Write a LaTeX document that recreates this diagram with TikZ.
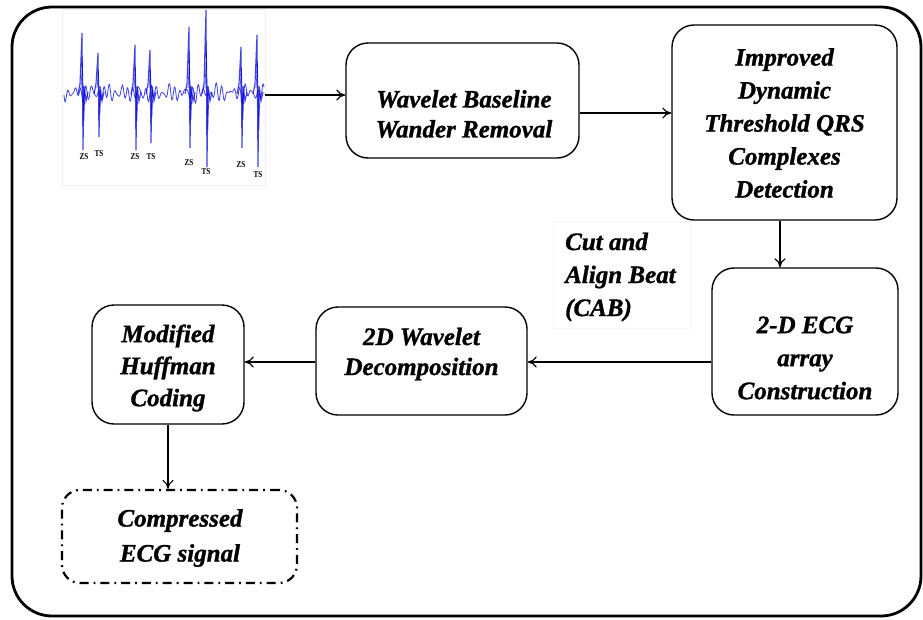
\documentclass[tikz,border=0pt]{standalone}
\usepackage{fontspec}
\setmainfont{Liberation Serif}[BoldItalicFeatures={FakeBold=1.2}]
\usetikzlibrary{arrows.meta}
\begin{document}
\begin{tikzpicture}[x=1pt,y=-1pt,
  stagebox/.style={draw,line width=1.4pt,rounded corners=22pt,inner sep=0pt},
  stagetext/.style={align=center,inner sep=0pt,
    font=\fontsize{25}{#1}\selectfont\bfseries\itshape},
  stagetext/.default=33,
  flow/.style={-{To[length=9pt,width=11pt]},line width=1.1pt},
  ecgline/.style={draw=blue!85!black,line width=0.8pt,opacity=0.75},
  spk/.style={font=\fontsize{9}{9}\selectfont\bfseries,inner sep=0pt,xscale=0.8}]
\useasboundingbox (0,0) rectangle (923,619);
% outer frame
\draw[line width=2.8pt,rounded corners=40pt] (12,7) rectangle (921,616);

% ECG trace
\node[draw=black!6,line width=0.5pt,minimum width=203pt,minimum height=176pt,inner sep=0pt] (ecg) at (163.5,97) {};
\draw[ecgline] plot[domain=0:200,samples=340,smooth]
  ({64+\x},{93+4.5*sin(61*\x)+3*sin(77*\x+40)+2.2*sin(23*\x)+1.5*sin(47*\x+10)});
\foreach \sx/\top/\bot in {83/33/150,99/53/137,136/45/150,151/50/143,190/27/148,207/10/167,242/47/148,258/35/167}{
  \draw[ecgline,line width=1.1pt] (\sx-5,94) -- (\sx-3,84) -- (\sx-1,\top) -- (\sx,\bot) -- (\sx+1,86) -- (\sx+3,101) -- (\sx+5,92);
  \draw[ecgline,line width=0.6pt] (\sx-2,88) -- (\sx-0.5,{0.5*\top+46}) -- (\sx+0.8,{0.5*\bot+46}) -- (\sx+2,90);
}
\node[spk] (s1) at (84,157) {ZS};
\node[spk] (s2) at (99,154) {TS};
\node[spk] (s3) at (135,157) {ZS};
\node[spk] (s4) at (151,157) {TS};
\node[spk] (s5) at (189,163) {ZS};
\node[spk] (s6) at (206,172) {TS};
\node[spk] (s7) at (241,165) {ZS};
\node[spk] (s8) at (258,175) {TS};
\coordinate (ecgout) at (265,95);

% processing stages (frames)
\node[stagebox,minimum width=233pt,minimum height=115pt] (wbr) at (462.5,100.5) {};
\node[stagebox,minimum width=225pt,minimum height=195pt] (qrs) at (784.5,122.5) {};
\node[stagebox,minimum width=186pt,minimum height=147pt] (arr) at (805,341.5) {};
\node[stagebox,minimum width=211pt,minimum height=108pt] (dwt) at (421.5,361) {};
\node[stagebox,minimum width=152pt,minimum height=119pt] (huf) at (168,364.5) {};
\node[stagebox,line width=2.2pt,dash pattern=on 9pt off 5pt on 1.8pt off 5pt,minimum width=235pt,minimum height=93pt,rounded corners=18pt] (out) at (179.5,536.5) {};

% stage captions
\node[stagetext=30] (wbrtext) at (464,114) {Wavelet Baseline\\Wander Removal};
\node[stagetext=33] (qrstext) at (784.5,123) {Improved\\Dynamic\\Threshold QRS\\Complexes\\Detection};
\node[stagetext=33] (arrtext) at (805,358) {2-D ECG\\array\\Construction};
\node[stagetext=30] (dwttext) at (421.5,354) {2D Wavelet\\Decomposition};
\node[stagetext=32] (huftext) at (168,368) {Modified\\Huffman\\Coding};
\node[stagetext=35] (outtext) at (180,538) {Compressed\\ECG signal};

% side label
\node[draw=black!4,line width=0.5pt,minimum width=137pt,minimum height=106pt,inner sep=0pt] (cabbox) at (621.5,275) {};
\node[align=left,anchor=west,font=\fontsize{25}{33}\selectfont\bfseries\itshape,inner sep=0pt] (cab) at (565,277) {Cut and\\Align Beat\\(CAB)};

% connectors
\draw[flow] (ecgout) -- (wbr.west |- ecgout);
\draw[flow] (wbr.east |- 0,113) -- (qrs.west |- 0,113);
\draw[flow] (qrs.south -| 780,0) -- (arr.north -| 780,0);
\draw[flow] (arr.west |- 0,362) -- (dwt.east |- 0,362);
\draw[flow] (dwt.west |- 0,362) -- (huf.east |- 0,362);
\draw[flow] (huf.south) -- (huf.south |- out.north);
\end{tikzpicture}
\end{document}
